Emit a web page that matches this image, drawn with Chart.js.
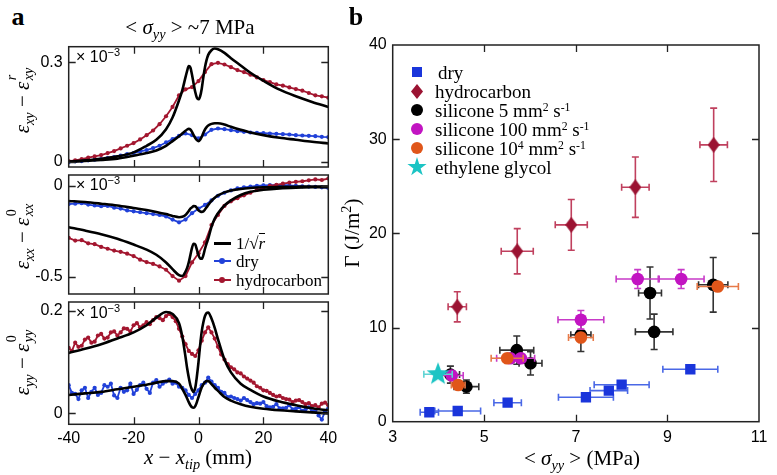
<!DOCTYPE html>
<html>
<head>
<meta charset="utf-8">
<script src="https://cdn.jsdelivr.net/npm/chart.js@4.4.1/dist/chart.umd.min.js"></script>
<style>
    body { margin: 0; width: 777px; height: 475px; position: relative; background: #fff; overflow: hidden; font-family: "Liberation Serif", "Times New Roman", serif; color: #000; }
    canvas { position: absolute; }
    .lbl { position: absolute; white-space: nowrap; transform: translate(-50%, -50%); line-height: 1; }
    .rot { transform: translate(-50%, -50%) rotate(-90deg); }
    .panel { font-weight: bold; font-size: 26px; }
    .math { font-size: 21px; }
    .exp { position: absolute; font-family: "Liberation Sans", Arial, sans-serif; font-size: 16px; white-space: nowrap; line-height: 1; }
    .exp sup { font-size: 11px; vertical-align: 6px; }
    sub, sup { font-size: 0.68em; line-height: 0; }
    .ss { display: inline-block; position: relative; width: 1.05em; height: 1em; font-size: 0.68em; vertical-align: baseline; }
    .ss .up { position: absolute; left: 0.1em; top: -0.75em; }
    .ss .dn { position: absolute; left: 0.1em; top: 0.45em; }
    .leg { position: absolute; font-size: 17px; white-space: nowrap; line-height: 1; }
    .legb { position: absolute; font-size: 19px; white-space: nowrap; line-height: 1; }
    .legb sup { font-size: 0.62em; vertical-align: 0.55em; }
    .mk { position: absolute; }
</style>
</head>
<body>

<canvas id="a1" width="340" height="131" style="left:0;top:40px"></canvas>
<canvas id="a2" width="340" height="127" style="left:0;top:171px"></canvas>
<canvas id="a3" width="340" height="152" style="left:0;top:298px"></canvas>
<canvas id="b" width="431" height="445" style="left:340px;top:30px"></canvas>

<!-- panel letters and titles -->
<div class="lbl panel" style="left:18px;top:17px">a</div>
<div class="lbl panel" style="left:356px;top:17px">b</div>
<div class="lbl math" style="left:190px;top:27px">&lt; <i>σ<sub>yy</sub></i> &gt; ~7 MPa</div>

<div class="exp" style="left:76px;top:49px">× 10<sup>−3</sup></div>
<div class="exp" style="left:76px;top:177px">× 10<sup>−3</sup></div>
<div class="exp" style="left:76px;top:305px">× 10<sup>−3</sup></div>

<div class="lbl rot math" style="left:22px;top:100px"><i>ε</i><sub><i>xy</i></sub> − <i>ε</i><span class="ss"><span class="up"><i>r</i></span><span class="dn"><i>xy</i></span></span></div>
<div class="lbl rot math" style="left:22px;top:236px"><i>ε</i><sub><i>xx</i></sub> − <i>ε</i><span class="ss"><span class="up">0</span><span class="dn"><i>xx</i></span></span></div>
<div class="lbl rot math" style="left:22px;top:362px"><i>ε</i><sub><i>yy</i></sub> − <i>ε</i><span class="ss"><span class="up">0</span><span class="dn"><i>yy</i></span></span></div>

<div class="lbl math" style="left:198px;top:457px"><i>x</i> − <i>x<sub>tip</sub></i> (mm)</div>
<div class="lbl math" style="left:582px;top:458px">&lt; <i>σ<sub>yy</sub></i> &gt; (MPa)</div>
<div class="lbl rot math" style="left:352px;top:233px">Γ (J/m<sup>2</sup>)</div>

<!-- legend of panel a (middle strip) -->
<div class="mk" style="left:214px;top:242px;width:17px;height:3px;background:#000"></div>
<div class="leg" style="left:236px;top:235px">1/√<span style="border-top:1px solid #000"><i>r</i></span></div>
<div class="mk" style="left:214px;top:260px;width:17px;height:2px;background:#2141d9"></div>
<div class="mk" style="left:219px;top:258px;width:6px;height:6px;border-radius:50%;background:#2141d9"></div>
<div class="leg" style="left:236px;top:253px">dry</div>
<div class="mk" style="left:214px;top:279px;width:17px;height:2px;background:#a3162f"></div>
<div class="mk" style="left:219px;top:277px;width:6px;height:6px;border-radius:50%;background:#a3162f"></div>
<div class="leg" style="left:236px;top:272px">hydrocarbon</div>

<!-- legend of panel b -->
<div class="mk" style="left:412px;top:67px;width:10px;height:10px;background:#1a35db"></div>
<div class="legb" style="left:438px;top:63px">dry</div>
<div class="mk" style="left:411px;top:84px;width:12px;height:15px;background:#9b1332;clip-path:polygon(50% 0,100% 50%,50% 100%,0 50%)"></div>
<div class="legb" style="left:435px;top:82px">hydrocarbon</div>
<div class="mk" style="left:411px;top:104px;width:12px;height:12px;border-radius:50%;background:#000"></div>
<div class="legb" style="left:435px;top:101px">silicone 5 mm<sup>2</sup> s<sup>-1</sup></div>
<div class="mk" style="left:411px;top:123px;width:12px;height:12px;border-radius:50%;background:#c214c2"></div>
<div class="legb" style="left:435px;top:120px">silicone 100 mm<sup>2</sup> s<sup>-1</sup></div>
<div class="mk" style="left:411px;top:142px;width:12px;height:12px;border-radius:50%;background:#e0561a"></div>
<div class="legb" style="left:435px;top:139px">silicone 10<sup>4</sup> mm<sup>2</sup> s<sup>-1</sup></div>
<div class="mk" style="left:407px;top:157px;width:20px;height:20px;background:#1cc4c4;clip-path:polygon(50% 0,61% 35%,98% 35%,68% 57%,79% 91%,50% 70%,21% 91%,32% 57%,2% 35%,39% 35%)"></div>
<div class="legb" style="left:435px;top:158px">ethylene glycol</div>

<script>
// ---- panel a data (strain vs distance to tip, mm) ----
const stepX = [-40, -38, -36, -34, -32, -30, -28, -26, -24, -22, -20, -18, -16, -14, -12, -10, -8, -6, -4, -2,
    0, 2, 4, 6, 8, 10, 12, 14, 16, 18, 20, 22, 24, 26, 28, 30, 32, 34, 36, 38, 40];
const fineX = [-40, -39, -38, -37, -36, -35, -34, -33, -32, -31, -30, -29, -28, -27, -26, -25, -24, -23, -22, -21,
    -20, -19, -18, -17, -16, -15, -14, -13, -12, -11, -10, -9, -8, -7, -6, -5, -4, -3, -2, -1,
    0, 1, 2, 3, 4, 5, 6, 7, 8, 9, 10, 11, 12, 13, 14, 15, 16, 17, 18, 19,
    20, 21, 22, 23, 24, 25, 26, 27, 28, 29, 30, 31, 32, 33, 34, 35, 36, 37, 38, 39, 40];
const fitX = [-40, -35, -30, -25, -20, -16, -13, -10, -8, -6, -5, -4, -3.5, -3, -2.5, -2, -1.5, -1, -0.5, 0,
    0.5, 1, 1.5, 2, 2.5, 3, 4, 5, 6, 8, 10, 13, 16, 20, 25, 30, 35, 40];

// exy - exy^r
const xyHydro = [0.002, 0.004, 0.008, 0.012, 0.016, 0.02, 0.026, 0.032, 0.04, 0.048, 0.056, 0.067, 0.08, 0.094, 0.113, 0.137, 0.165, 0.2, 0.218, 0.225,
    0.243, 0.27, 0.294, 0.298, 0.293, 0.285, 0.276, 0.27, 0.262, 0.254, 0.246, 0.24, 0.233, 0.229, 0.224, 0.219, 0.214, 0.207, 0.2, 0.197, 0.193];
const xyDry = [-0.002, 0.001, 0.002, 0.004, 0.006, 0.008, 0.011, 0.014, 0.018, 0.023, 0.026, 0.031, 0.035, 0.041, 0.048, 0.058, 0.068, 0.078, 0.085, 0.08,
    0.07, 0.082, 0.096, 0.1, 0.098, 0.095, 0.092, 0.09, 0.088, 0.087, 0.086, 0.085, 0.084, 0.083, 0.082, 0.08, 0.079, 0.078, 0.077, 0.075, 0.074];
const xyHydroFit = [0.0, 0.004, 0.009, 0.016, 0.028, 0.048, 0.066, 0.098, 0.133, 0.185, 0.215, 0.255, 0.274, 0.288, 0.284, 0.262, 0.235, 0.21, 0.193, 0.188,
    0.197, 0.22, 0.255, 0.285, 0.307, 0.322, 0.336, 0.341, 0.339, 0.328, 0.312, 0.29, 0.268, 0.244, 0.217, 0.197, 0.18, 0.165];
const xyDryFit = [0.0, 0.002, 0.005, 0.009, 0.018, 0.026, 0.034, 0.048, 0.062, 0.077, 0.085, 0.093, 0.097, 0.099, 0.097, 0.09, 0.08, 0.071, 0.065, 0.062,
    0.066, 0.075, 0.087, 0.097, 0.104, 0.109, 0.114, 0.116, 0.116, 0.112, 0.105, 0.096, 0.088, 0.08, 0.072, 0.066, 0.06, 0.055];

// exx - exx^0
const xxDry = [-0.1, -0.098, -0.095, -0.103, -0.108, -0.112, -0.11, -0.12, -0.125, -0.135, -0.14, -0.145, -0.15, -0.155, -0.16, -0.168, -0.185, -0.2, -0.185, -0.15,
    -0.125, -0.105, -0.08, -0.055, -0.038, -0.025, -0.014, -0.008, -0.004, 0.0, 0.002, 0.004, 0.003, 0.005, 0.002, 0.0, -0.003, -0.004, -0.006, -0.008, -0.012];
const xxHydro = [-0.285, -0.3, -0.298, -0.315, -0.32, -0.335, -0.345, -0.355, -0.362, -0.372, -0.385, -0.405, -0.418, -0.428, -0.442, -0.46, -0.495, -0.52, -0.495, -0.42,
    -0.37, -0.31, -0.215, -0.16, -0.11, -0.085, -0.068, -0.052, -0.038, -0.022, -0.012, 0.0, 0.005, 0.012, 0.018, 0.022, 0.025, 0.03, 0.035, 0.032, 0.04];
const xxDryFit = [-0.083, -0.089, -0.098, -0.108, -0.122, -0.133, -0.143, -0.155, -0.165, -0.172, -0.17, -0.16, -0.15, -0.138, -0.125, -0.118, -0.111, -0.112, -0.122, -0.135,
    -0.14, -0.143, -0.14, -0.13, -0.118, -0.105, -0.082, -0.065, -0.053, -0.036, -0.026, -0.017, -0.012, -0.008, -0.006, -0.005, -0.004, -0.004];
const xxHydroFit = [-0.227, -0.245, -0.265, -0.29, -0.322, -0.35, -0.378, -0.42, -0.457, -0.49, -0.494, -0.47, -0.45, -0.42, -0.38, -0.34, -0.318, -0.322, -0.35, -0.38,
    -0.398, -0.4, -0.38, -0.345, -0.315, -0.29, -0.225, -0.18, -0.15, -0.108, -0.08, -0.05, -0.033, -0.022, -0.014, -0.01, -0.008, -0.007];

// eyy - eyy^0 (1 mm sampling)
const yyHydro = [0.128, 0.122, 0.138, 0.13, 0.132, 0.144, 0.148, 0.138, 0.14, 0.152,
    0.155, 0.146, 0.148, 0.158, 0.16, 0.152, 0.158, 0.166, 0.165, 0.16,
    0.172, 0.176, 0.168, 0.172, 0.178, 0.174, 0.182, 0.188, 0.186, 0.182,
    0.19, 0.194, 0.188, 0.18, 0.165, 0.15, 0.135, 0.122, 0.116, 0.112,
    0.123, 0.142, 0.158, 0.168, 0.158, 0.146, 0.13, 0.115, 0.105, 0.096,
    0.09, 0.086, 0.08, 0.078, 0.072, 0.068, 0.064, 0.06, 0.053, 0.05,
    0.045, 0.044, 0.04, 0.036, 0.033, 0.034, 0.03, 0.028, 0.027, 0.022,
    0.025, 0.026, 0.022, 0.018, 0.02, 0.014, 0.016, 0.012, 0.019, 0.021,
    0.016];
const yyDry = [0.055, 0.04, 0.038, 0.028, 0.045, 0.05, 0.03, 0.042, 0.05, 0.036,
    0.04, 0.055, 0.052, 0.058, 0.035, 0.03, 0.05, 0.042, 0.045, 0.058,
    0.038, 0.046, 0.055, 0.06, 0.048, 0.04, 0.06, 0.065, 0.052, 0.058,
    0.062, 0.066, 0.058, 0.06, 0.052, 0.05, 0.045, 0.036, 0.03, 0.038,
    0.045, 0.055, 0.06, 0.07, 0.062, 0.055, 0.05, 0.042, 0.04, 0.032,
    0.033, 0.03, 0.028, 0.025, 0.03, 0.026, 0.022, 0.018, 0.02, 0.019,
    0.022, 0.014, 0.012, 0.013, 0.018, 0.01, 0.01, 0.011, 0.016, 0.008,
    0.009, 0.012, 0.005, 0.008, 0.012, 0.004, 0.006, -0.004, -0.012, 0.004,
    0.01];
const yyHydroFit = [0.118, 0.126, 0.135, 0.146, 0.158, 0.172, 0.187, 0.198, 0.194, 0.176, 0.15, 0.11, 0.088, 0.07, 0.055, 0.046, 0.042, 0.05, 0.072, 0.1,
    0.133, 0.16, 0.178, 0.19, 0.196, 0.197, 0.185, 0.167, 0.145, 0.105, 0.08, 0.058, 0.046, 0.033, 0.023, 0.016, 0.01, 0.006];
const yyDryFit = [0.036, 0.039, 0.042, 0.047, 0.052, 0.056, 0.06, 0.063, 0.063, 0.058, 0.048, 0.036, 0.029, 0.022, 0.016, 0.012, 0.011, 0.014, 0.022, 0.032,
    0.042, 0.051, 0.057, 0.061, 0.063, 0.063, 0.057, 0.05, 0.044, 0.032, 0.025, 0.018, 0.013, 0.009, 0.006, 0.004, 0.002, 0.0];

const stripXTicks = [-40, -20, 0, 20, 40];

// ---- panel b data (fracture energy vs mean stress) ----
const dryS = [3.8, 4.42, 5.51, 7.22, 7.72, 8.0, 9.5];
const dryG = [1.0, 1.14, 2.02, 2.6, 3.3, 3.93, 5.57];
const dryErrS = [0.2, 0.5, 0.3, 0.6, 0.41, 0.6, 0.6];
const dryErrG = [0.3, 0.3, 0.3, 0.3, 0.3, 0.3, 0.3];

const hydroS = [4.41, 5.72, 6.9, 8.3, 10.01];
const hydroG = [12.2, 18.1, 20.9, 24.9, 29.4];
const hydroErrS = [0.2, 0.35, 0.35, 0.3, 0.3];
const hydroErrG = [1.6, 2.4, 2.7, 3.2, 3.9];

const sil5S = [4.26, 4.61, 5.71, 6.01, 7.11, 8.62, 8.71, 10.0];
const sil5G = [5.0, 3.72, 7.6, 6.2, 9.22, 13.66, 9.54, 14.54];
const sil5ErrS = [0.2, 0.27, 0.37, 0.25, 0.22, 0.25, 0.41, 0.32];
const sil5ErrG = [0.9, 0.7, 1.5, 1.24, 1.77, 2.76, 1.88, 2.9];

const sil100S = [4.29, 5.57, 5.8, 7.11, 8.35, 9.3];
const sil100G = [4.9, 6.74, 6.74, 10.82, 15.15, 15.15];
const sil100ErrS = [0.25, 0.3, 0.3, 0.5, 0.47, 0.5];
const sil100ErrG = [0.4, 0.4, 0.4, 0.99, 1.0, 1.0];

const sil1e4S = [4.43, 5.5, 7.11, 10.1];
const sil1e4G = [3.9, 6.74, 8.94, 14.36];
const sil1e4ErrS = [0.15, 0.35, 0.27, 0.45];
const sil1e4ErrG = [0.4, 0.4, 0.4, 0.5];

const glycolS = [3.99];
const glycolG = [5.04];
const glycolErrS = [0.31];
const glycolErrG = [0.3];

const bXTicks = [3, 5, 7, 9, 11];
const bYTicks = [0, 10, 20, 30, 40];

// ---- helpers ----
Chart.defaults.font.family = '"Liberation Sans", Arial, sans-serif';
Chart.defaults.font.size = 16;
Chart.defaults.color = '#000';

const BLUE = '#2141d9';
const RED = '#a3162f';

function pts(xs, ys) {
    return xs.map((x, i) => ({ x: x, y: ys[i] }));
}

// frame with inward ticks on all four sides
const boxTicks = {
    id: 'boxTicks',
    afterDraw(chart) {
        const { ctx, chartArea: a, scales: { x, y } } = chart;
        ctx.save();
        ctx.strokeStyle = '#222';
        ctx.lineWidth = 1.5;
        ctx.strokeRect(a.left, a.top, a.right - a.left, a.bottom - a.top);
        ctx.lineWidth = 1.3;
        ctx.beginPath();
        x.ticks.forEach(t => {
            const px = Math.round(x.getPixelForValue(t.value)) + 0.5;
            if (px <= a.left + 2 || px >= a.right - 2) return;
            ctx.moveTo(px, a.bottom); ctx.lineTo(px, a.bottom - 7);
            ctx.moveTo(px, a.top); ctx.lineTo(px, a.top + 7);
        });
        y.ticks.forEach(t => {
            const py = Math.round(y.getPixelForValue(t.value)) + 0.5;
            if (py <= a.top + 2 || py >= a.bottom - 2) return;
            ctx.moveTo(a.left, py); ctx.lineTo(a.left + 7, py);
            ctx.moveTo(a.right, py); ctx.lineTo(a.right - 7, py);
        });
        ctx.stroke();
        ctx.restore();
    }
};

// error bars drawn under each dataset's markers
const errorBars = {
    id: 'errorBars',
    beforeDatasetDraw(chart, args) {
        const ds = chart.data.datasets[args.index];
        if (!ds.errS) return;
        const { ctx, scales: { x, y } } = chart;
        const cap = 3.5;
        ctx.save();
        ctx.strokeStyle = ds.errColor;
        ctx.lineWidth = 1.6;
        ds.data.forEach((p, i) => {
            const cx = x.getPixelForValue(p.x);
            const cy = y.getPixelForValue(p.y);
            const x0 = x.getPixelForValue(p.x - ds.errS[i]);
            const x1 = x.getPixelForValue(p.x + ds.errS[i]);
            const y0 = y.getPixelForValue(p.y - ds.errG[i]);
            const y1 = y.getPixelForValue(p.y + ds.errG[i]);
            ctx.beginPath();
            ctx.moveTo(x0, cy); ctx.lineTo(x1, cy);
            ctx.moveTo(x0, cy - cap); ctx.lineTo(x0, cy + cap);
            ctx.moveTo(x1, cy - cap); ctx.lineTo(x1, cy + cap);
            ctx.moveTo(cx, y0); ctx.lineTo(cx, y1);
            ctx.moveTo(cx - cap, y0); ctx.lineTo(cx + cap, y0);
            ctx.moveTo(cx - cap, y1); ctx.lineTo(cx + cap, y1);
            ctx.stroke();
        });
        ctx.restore();
    }
};

function dataSet(xs, ys, color) {
    return {
        data: pts(xs, ys), borderColor: color, backgroundColor: color,
        borderWidth: 1.8, pointRadius: 2.1, pointBorderWidth: 0, order: 2
    };
}

function fitSet(ys) {
    return {
        data: pts(fitX, ys), borderColor: '#000', borderWidth: 2.6, pointRadius: 0,
        cubicInterpolationMode: 'monotone', order: 1
    };
}

function makeStrip(id, datasets, yMin, yMax, yTicks, showX, padTop, xHeight) {
    new Chart(document.getElementById(id), {
        type: 'line',
        data: { datasets: datasets },
        options: {
            responsive: false,
            animation: false,
            layout: { padding: { left: 0, right: 11.7, top: padTop, bottom: 0 } },
            plugins: { legend: { display: false }, tooltip: { enabled: false } },
            scales: {
                x: {
                    type: 'linear', min: -40, max: 40,
                    afterBuildTicks: s => { s.ticks = stripXTicks.map(v => ({ value: v })); },
                    afterFit: s => { s.height = xHeight; s.paddingLeft = 0; s.paddingRight = 0; },
                    ticks: { display: showX, padding: 5, maxRotation: 0, callback: v => String(v) },
                    grid: { display: false, drawTicks: false },
                    border: { display: false }
                },
                y: {
                    min: yMin, max: yMax,
                    afterBuildTicks: s => { s.ticks = yTicks.map(v => ({ value: v })); },
                    afterFit: s => { s.width = 68.7; s.paddingTop = 0; s.paddingBottom = 0; },
                    ticks: { padding: 6, callback: v => String(v) },
                    grid: { display: false, drawTicks: false },
                    border: { display: false }
                }
            }
        },
        plugins: [boxTicks]
    });
}

makeStrip('a1', [
    fitSet(xyHydroFit), fitSet(xyDryFit),
    dataSet(stepX, xyHydro, RED), dataSet(stepX, xyDry, BLUE)
], -0.016, 0.3466, [0, 0.3], false, 6.7, 3);

makeStrip('a2', [
    fitSet(xxHydroFit), fitSet(xxDryFit),
    dataSet(stepX, xxHydro, RED), dataSet(stepX, xxDry, BLUE)
], -0.593, 0.0593, [-0.5, 0], false, 3, 3);

makeStrip('a3', [
    fitSet(yyHydroFit), fitSet(yyDryFit),
    dataSet(fineX, yyHydro, RED), dataSet(fineX, yyDry, BLUE)
], -0.0213, 0.2174, [0, 0.2], true, 3, 25.7);

// marker shapes that Chart.js does not have
function diamondImg(color, w, h) {
    const c = document.createElement('canvas');
    c.width = w; c.height = h;
    const g = c.getContext('2d');
    g.fillStyle = color;
    g.beginPath();
    g.moveTo(w / 2, 0); g.lineTo(w, h / 2); g.lineTo(w / 2, h); g.lineTo(0, h / 2);
    g.closePath(); g.fill();
    return c;
}

function starImg(color, r) {
    const c = document.createElement('canvas');
    c.width = c.height = 2 * r + 2;
    const g = c.getContext('2d');
    g.fillStyle = color;
    g.beginPath();
    for (let k = 0; k < 10; k++) {
        const rad = k % 2 ? r * 0.42 : r;
        const ang = -Math.PI / 2 + k * Math.PI / 5;
        g.lineTo(r + 1 + rad * Math.cos(ang), r + 1 + rad * Math.sin(ang));
    }
    g.closePath(); g.fill();
    return c;
}

function bSet(xs, ys, es, eg, color, errColor, style, radius, order) {
    return {
        data: pts(xs, ys), errS: es, errG: eg, errColor: errColor,
        backgroundColor: color, borderColor: color, borderWidth: 0,
        pointStyle: style, pointRadius: radius, showLine: false, order: order
    };
}

new Chart(document.getElementById('b'), {
    type: 'scatter',
    data: {
        datasets: [
            bSet(dryS, dryG, dryErrS, dryErrG, '#1a35db', '#4a68e6', 'rect', 7.3, 6),
            bSet(hydroS, hydroG, hydroErrS, hydroErrG, '#9b1332', '#c0405e', diamondImg('#9b1332', 12, 16), 8, 5),
            bSet(sil5S, sil5G, sil5ErrS, sil5ErrG, '#000', '#333', 'circle', 6.3, 4),
            bSet(sil100S, sil100G, sil100ErrS, sil100ErrG, '#c214c2', '#c83ac8', 'circle', 6.3, 3),
            bSet(sil1e4S, sil1e4G, sil1e4ErrS, sil1e4ErrG, '#e0561a', '#e77a48', 'circle', 6.3, 2),
            bSet(glycolS, glycolG, glycolErrS, glycolErrG, '#1cc4c4', '#5fd4d4', starImg('#1cc4c4', 12), 12, 1)
        ]
    },
    options: {
        responsive: false,
        animation: false,
        layout: { padding: { left: 0, right: 2.5, top: 15, bottom: 0 } },
        plugins: { legend: { display: false }, tooltip: { enabled: false } },
        scales: {
            x: {
                type: 'linear', min: 3, max: 11,
                afterBuildTicks: s => { s.ticks = bXTicks.map(v => ({ value: v })); },
                afterFit: s => { s.height = 53.3; s.paddingLeft = 0; s.paddingRight = 0; },
                ticks: { padding: 6, maxRotation: 0, callback: v => String(v) },
                grid: { display: false, drawTicks: false },
                border: { display: false }
            },
            y: {
                min: 0, max: 40,
                afterBuildTicks: s => { s.ticks = bYTicks.map(v => ({ value: v })); },
                afterFit: s => { s.width = 52.7; s.paddingTop = 0; s.paddingBottom = 0; },
                ticks: { padding: 6, callback: v => String(v) },
                grid: { display: false, drawTicks: false },
                border: { display: false }
            }
        }
    },
    plugins: [errorBars, boxTicks]
});
</script>
</body>
</html>
